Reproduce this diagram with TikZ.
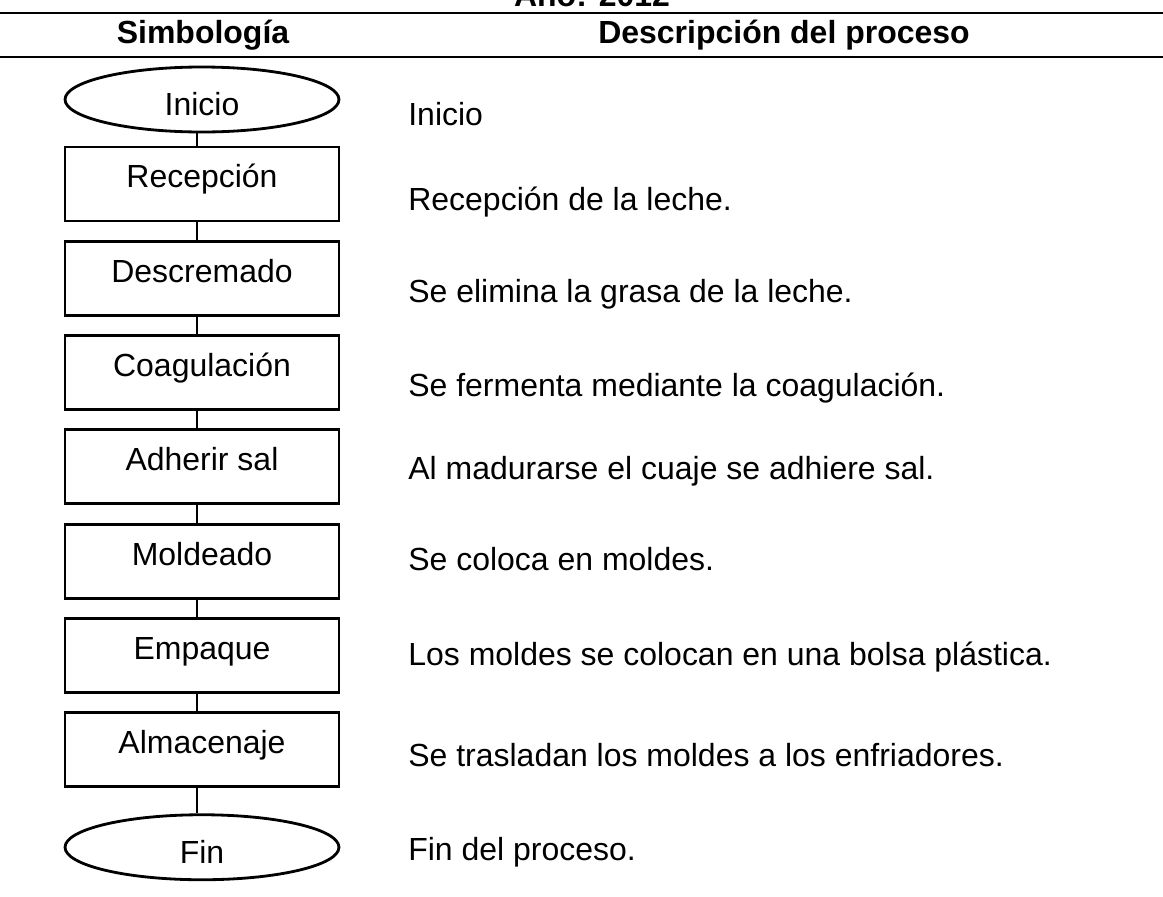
\documentclass[tikz,border=0pt]{standalone}
\usepackage{fontspec}
\setmainfont{Liberation Sans}
\usetikzlibrary{shapes.geometric, positioning}

\begin{document}
\begin{tikzpicture}[x=0.02cm, y=-0.02cm, node distance=0.35cm,
  font=\fontsize{18.2}{22}\selectfont,
  stepbox/.style={draw,line width=1.6pt,minimum width=5.48cm,inner xsep=0pt,inner ysep=0pt,text height=0.82cm,text depth=0.66cm},
  term/.style={draw,ellipse,line width=1.6pt,minimum width=5.48cm,minimum height=1.3cm,inner sep=0pt,text height=0.64cm,text depth=0pt},
  desc/.style={anchor=base west,inner sep=0pt},
  head/.style={anchor=base,inner sep=0pt,font=\fontsize{18.2}{22}\selectfont\bfseries},
  rule/.style={line width=1.1pt},
  link/.style={line width=1.5pt}]
  \useasboundingbox (0,0) rectangle (1163,896);
  % cabecera
  \node[head] (anio) at (592,6) {Año: 2012};
  \draw[rule] (0,13) -- (1163,13);
  \node[head] (hsimb) at (203,43) {Simbología};
  \node[head] (hdesc) at (784,43) {Descripción del proceso};
  \draw[rule] (0,57) -- (1163,57);
  % simbologia
  \node[term] (inicio) at (202,99.5) {Inicio};
  \node[stepbox,below=0.244cm of inicio] (recep) {Recepción};
  \node[stepbox,below=of recep] (descr) {Descremado};
  \node[stepbox,below=of descr] (coag) {Coagulación};
  \node[stepbox,below=of coag] (sal) {Adherir sal};
  \node[stepbox,below=of sal] (mold) {Moldeado};
  \node[stepbox,below=of mold] (emp) {Empaque};
  \node[stepbox,below=of emp] (alm) {Almacenaje};
  \node[term,below=0.504cm of alm] (fin) {Fin};
  \foreach \a/\b in {inicio/recep,recep/descr,descr/coag,coag/sal,sal/mold,mold/emp,emp/alm,alm/fin}
    \draw[link] ([xshift=-0.1cm]\a.south) -- ([xshift=-0.1cm]\b.north);
  % descripcion
  \node[desc] (dinicio) at (408,125) {Inicio};
  \node[desc] (drecep) at (408,210) {Recepción de la leche.};
  \node[desc] (ddescr) at (408,302) {Se elimina la grasa de la leche.};
  \node[desc] (dcoag) at (408,396) {Se fermenta mediante la coagulación.};
  \node[desc] (dsal) at (408,479) {Al madurarse el cuaje se adhiere sal.};
  \node[desc] (dmold) at (408,570) {Se coloca en moldes.};
  \node[desc] (demp) at (408,665) {Los moldes se colocan en una bolsa plástica.};
  \node[desc] (dalm) at (408,766) {Se trasladan los moldes a los enfriadores.};
  \node[desc] (dfin) at (408,860) {Fin del proceso.};
\end{tikzpicture}
\end{document}
